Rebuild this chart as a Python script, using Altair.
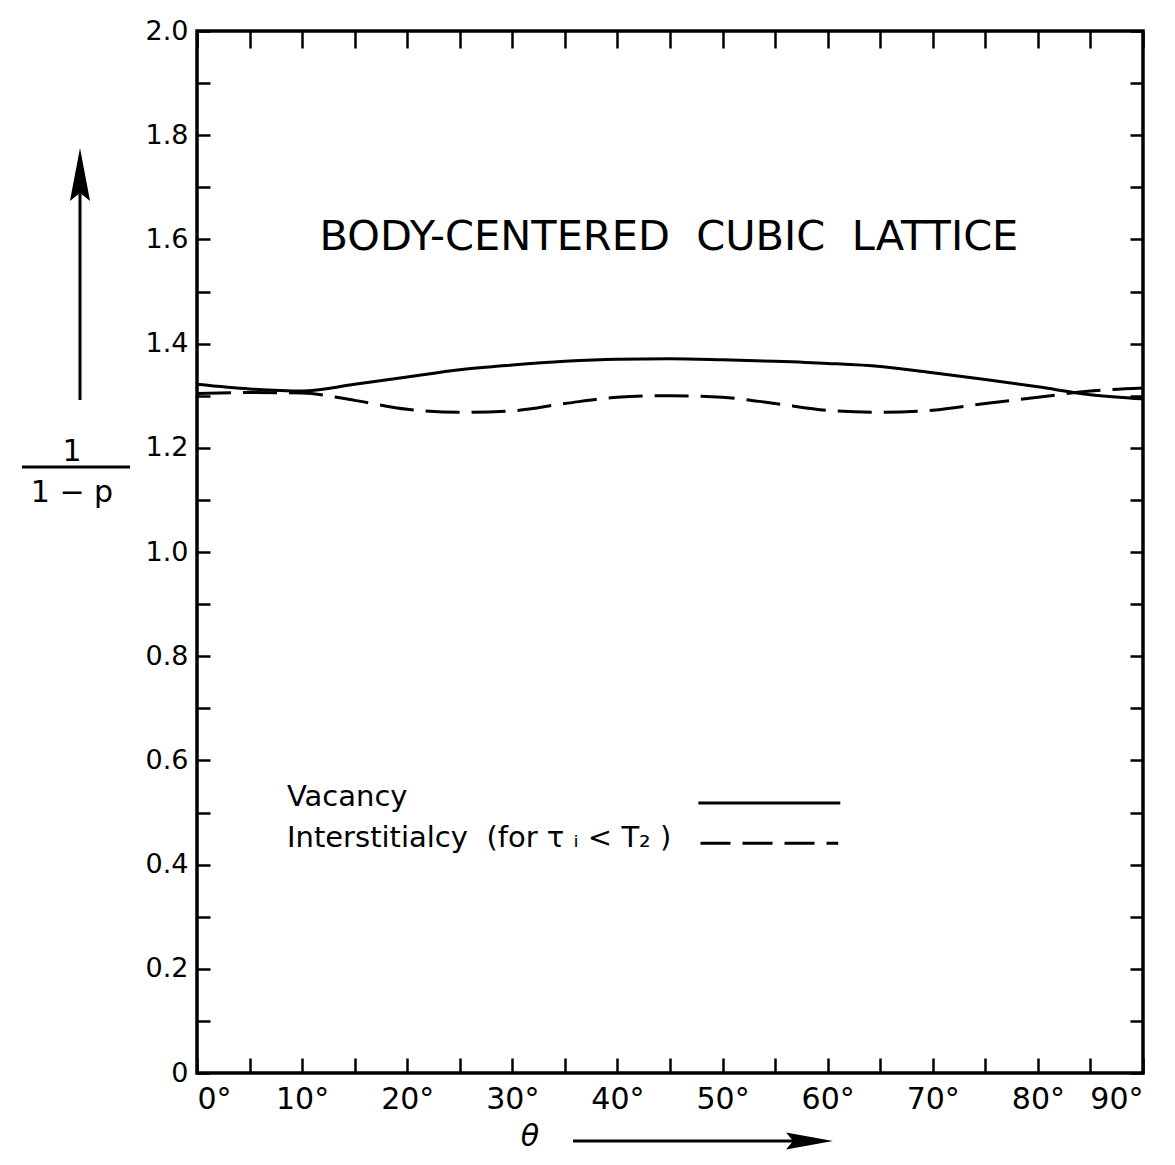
import altair as alt
import pandas as pd

# ---------------- data ----------------
theta = [0, 5, 10, 15, 20, 25, 30, 35, 40, 45, 50, 55, 60, 65, 70, 75, 80, 85, 90]
vacancy = [1.322, 1.313, 1.309, 1.322, 1.336, 1.350, 1.359, 1.366, 1.370, 1.371,
           1.369, 1.366, 1.362, 1.356, 1.344, 1.331, 1.317, 1.302, 1.294]
interstitialcy = [1.304, 1.306, 1.305, 1.291, 1.274, 1.268, 1.271, 1.285, 1.297, 1.300,
                  1.297, 1.285, 1.272, 1.268, 1.272, 1.285, 1.297, 1.309, 1.315]

x_label_values = [0, 10, 20, 30, 40, 50, 60, 70, 80, 90]
x_tick_values = [0, 5, 10, 15, 20, 25, 30, 35, 40, 45, 50, 55, 60, 65, 70, 75, 80, 85, 90]
y_label_values = [0, 0.2, 0.4, 0.6, 0.8, 1.0, 1.2, 1.4, 1.6, 1.8, 2.0]
y_tick_values = [0, 0.1, 0.2, 0.3, 0.4, 0.5, 0.6, 0.7, 0.8, 0.9, 1.0,
                 1.1, 1.2, 1.3, 1.4, 1.5, 1.6, 1.7, 1.8, 1.9, 2.0]

NB = "\u00a0"
title_text = ["BODY-CENTERED" + NB + NB + "CUBIC" + NB + NB + "LATTICE"]
title_theta = [44.9]
title_value = [1.603]

legend_labels = ["Vacancy",
                 "Interstitialcy" + NB + NB + "(for" + NB + "\u03c4" + NB + "\u1d62" + NB + "<"
                 + NB + "T\u2082" + NB + ")"]
legend_text_theta = [8.56, 8.56]
legend_text_value = [0.530, 0.451]
legend_solid_theta = [47.7, 61.2]
legend_solid_value = [0.518, 0.518]
legend_dash_theta = [47.9, 61.0]
legend_dash_value = [0.441, 0.441]

# ---------------- chart ----------------
W, H = 946, 1042
FONT = "DejaVu Sans"

xscale = alt.Scale(domain=[0, 90], nice=False, zero=False)
yscale = alt.Scale(domain=[0, 2], nice=False, zero=True)

df = pd.DataFrame({"theta": theta, "vac": vacancy, "int": interstitialcy})

tick_axis_common = dict(labels=False, domain=False, grid=False, title=None,
                        tickColor="black", tickWidth=2.5)

solid = alt.Chart(df).mark_line(color="black", strokeWidth=3, interpolate="monotone").encode(
    x=alt.X("theta:Q", scale=xscale,
            axis=alt.Axis(orient="bottom", values=x_label_values,
                          labelExpr="datum.value + '\u00b0'",
                          tickSize=0, domain=False, grid=False, title=None,
                          labelFont=FONT, labelFontSize=30, labelColor="black",
                          labelPadding=11, labelBaseline="top")),
    y=alt.Y("vac:Q", scale=yscale,
            axis=alt.Axis(orient="left", values=y_label_values,
                          labelExpr="datum.value == 0 ? '0' : format(datum.value, '.1f')",
                          tickSize=0, domain=False, grid=False, title=None,
                          labelFont=FONT, labelFontSize=27, labelColor="black",
                          labelPadding=9)),
)

dashed = alt.Chart(df).mark_line(color="black", strokeWidth=3, strokeDash=[34, 12],
                                 interpolate="monotone").encode(
    x=alt.X("theta:Q", scale=xscale,
            axis=alt.Axis(orient="bottom", values=x_tick_values, tickSize=15, offset=-15,
                          **tick_axis_common)),
    y=alt.Y("int:Q", scale=yscale,
            axis=alt.Axis(orient="left", values=y_tick_values, tickSize=13, offset=-13,
                          **tick_axis_common)),
)

leg_solid = alt.Chart(pd.DataFrame({"theta": legend_solid_theta, "v": legend_solid_value})).mark_line(
    color="black", strokeWidth=3).encode(
    x=alt.X("theta:Q", scale=xscale,
            axis=alt.Axis(orient="top", values=x_tick_values, tickSize=17, offset=-17,
                          **tick_axis_common)),
    y=alt.Y("v:Q", scale=yscale,
            axis=alt.Axis(orient="right", values=y_tick_values, tickSize=13, offset=-13,
                          **tick_axis_common)),
)

leg_dash = alt.Chart(pd.DataFrame({"theta": legend_dash_theta, "v": legend_dash_value})).mark_line(
    color="black", strokeWidth=3, strokeDash=[30, 12]).encode(
    x=alt.X("theta:Q", scale=xscale, axis=None),
    y=alt.Y("v:Q", scale=yscale, axis=None),
)

title = alt.Chart(pd.DataFrame({"theta": title_theta, "v": title_value, "t": title_text})).mark_text(
    font=FONT, fontSize=41.5, color="black", align="center", baseline="middle").encode(
    x=alt.X("theta:Q", scale=xscale, axis=None),
    y=alt.Y("v:Q", scale=yscale, axis=None),
    text="t:N",
)

leg_text = alt.Chart(pd.DataFrame({"theta": legend_text_theta, "v": legend_text_value,
                                   "t": legend_labels})).mark_text(
    font=FONT, fontSize=29, color="black", align="left", baseline="middle").encode(
    x=alt.X("theta:Q", scale=xscale, axis=None),
    y=alt.Y("v:Q", scale=yscale, axis=None),
    text="t:N",
)

# ---- axis titles drawn as annotations outside the plot area ----
ylab = pd.DataFrame({"t": ["1", "1 \u2212 p"], "px": [-125, -125], "py": [421, 462]})
ylab_text = alt.Chart(ylab).mark_text(font=FONT, fontSize=30, color="black",
                                      align="center", baseline="middle").encode(
    x=alt.X("px:Q", scale=None), y=alt.Y("py:Q", scale=None), text="t:N")
frac_line = alt.Chart(pd.DataFrame({"a": [0]})).mark_rule(color="black", strokeWidth=3).encode(
    x=alt.value(-175), x2=alt.value(-67), y=alt.value(436))
y_arrow = alt.Chart(pd.DataFrame({"a": [0]})).mark_rule(color="black", strokeWidth=3).encode(
    x=alt.value(-117), y=alt.value(369), y2=alt.value(130))
y_head = alt.Chart(pd.DataFrame({"a": [0]})).mark_point(
    shape="M -0.38 1 L 0 -1 L 0.38 1 L 0 0.7 Z", filled=True, color="black", size=2809,
    opacity=1).encode(x=alt.value(-117), y=alt.value(143.5))

theta_text = alt.Chart(pd.DataFrame({"t": ["\u03b8"]})).mark_text(
    font=FONT, fontSize=30, fontStyle="italic", color="black", align="center",
    baseline="middle").encode(x=alt.value(333), y=alt.value(1106), text="t:N")
x_arrow = alt.Chart(pd.DataFrame({"a": [0]})).mark_rule(color="black", strokeWidth=3).encode(
    x=alt.value(376), x2=alt.value(620), y=alt.value(1110))
x_head = alt.Chart(pd.DataFrame({"a": [0]})).mark_point(
    shape="M -1 -0.36 L 1 0 L -1 0.36 L -0.7 0 Z", filled=True, color="black", size=2209,
    opacity=1).encode(x=alt.value(612.5), y=alt.value(1110))

chart = alt.layer(
    solid, dashed, leg_solid, leg_dash, title, leg_text,
    ylab_text, frac_line, y_arrow, y_head, theta_text, x_arrow, x_head,
).resolve_axis(x="independent", y="independent").properties(
    width=W, height=H,
    autosize=alt.AutoSizeParams(type="none"),
    padding={"left": 189, "top": 23, "right": 20, "bottom": 84},
    background="white",
).configure_view(stroke="black", strokeWidth=3.5)

chart.save("out.html", embed_options={"renderer": "svg", "actions": False})
